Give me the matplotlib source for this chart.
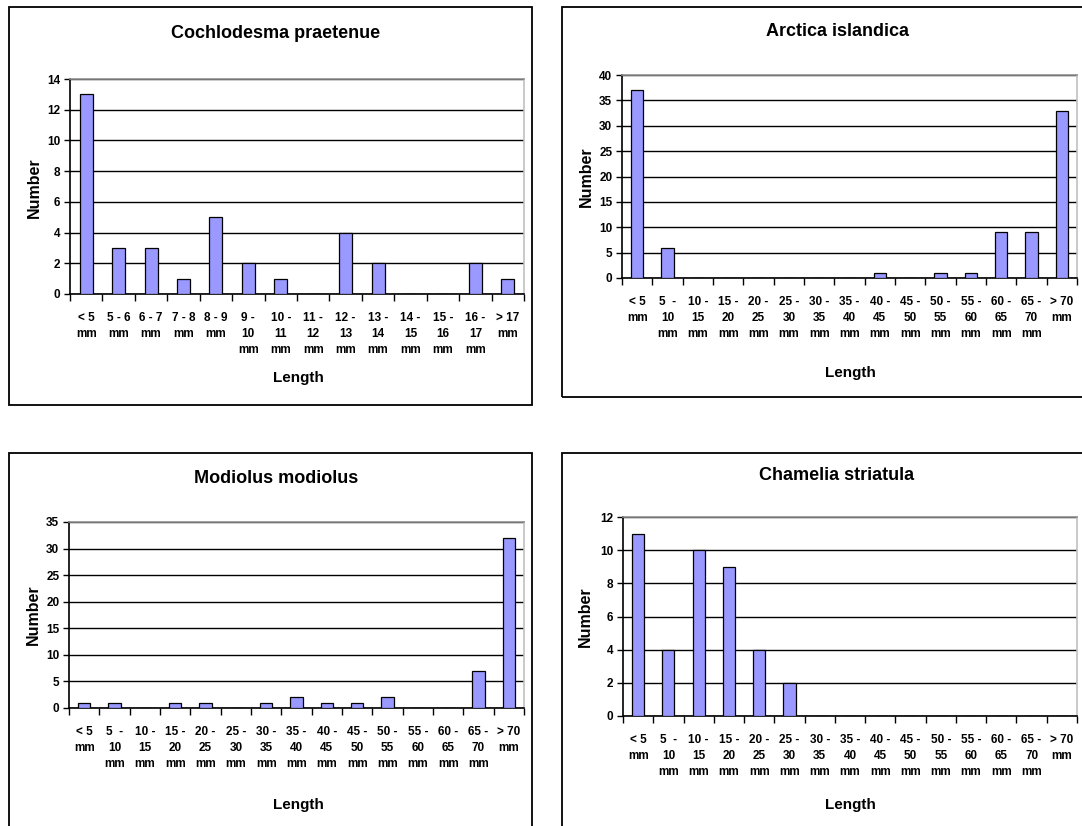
import matplotlib
matplotlib.use("Agg")
import matplotlib.pyplot as plt
from matplotlib.patches import Rectangle
import numpy as np

plt.rcParams["font.family"] = ["Liberation Sans", "DejaVu Sans"]
plt.rcParams["font.weight"] = "bold"

# -- data
small_labels = ["< 5\nmm", "5 - 6\nmm", "6 - 7\nmm", "7 - 8\nmm", "8 - 9\nmm",
                "9 -\n10\nmm", "10 -\n11\nmm", "11 -\n12\nmm", "12 -\n13\nmm",
                "13 -\n14\nmm", "14 -\n15\nmm", "15 -\n16\nmm", "16 -\n17\nmm",
                "> 17\nmm"]
large_labels = ["< 5\nmm", "5  -\n10\nmm", "10 -\n15\nmm", "15 -\n20\nmm",
                "20 -\n25\nmm", "25 -\n30\nmm", "30 -\n35\nmm", "35 -\n40\nmm",
                "40 -\n45\nmm", "45 -\n50\nmm", "50 -\n55\nmm", "55 -\n60\nmm",
                "60 -\n65\nmm", "65 -\n70\nmm", "> 70\nmm"]

cochlodesma = [13, 3, 3, 1, 5, 2, 1, 0, 4, 2, 0, 0, 2, 1]
arctica = [37, 6, 0, 0, 0, 0, 0, 0, 1, 0, 1, 1, 9, 9, 33]
modiolus = [1, 1, 0, 1, 1, 0, 1, 2, 1, 1, 2, 0, 0, 7, 32]
chamelia = [11, 4, 10, 9, 4, 2, 0, 0, 0, 0, 0, 0, 0, 0, 0]

W, H = 1082, 826
fig = plt.figure(figsize=(W / 100, H / 100), dpi=100)
fig.patch.set_facecolor("white")

def fx(x):
    return x / W

def fy(y):
    return 1 - y / H

def panel(box, plot, title, title_xy, labels, values, ymax, ystep, num_xy, len_xy):
    # outer chart border (pixels: left, top, right, bottom)
    bx0, by0, bx1, by1 = box
    fig.add_artist(Rectangle((fx(bx0), fy(by1)), fx(bx1 - bx0), (by1 - by0) / H,
                             transform=fig.transFigure, fill=False,
                             edgecolor="black", linewidth=1.3, clip_on=False))
    px0, py0, px1, py1 = plot
    ax = fig.add_axes([fx(px0), fy(py1), fx(px1 - px0), (py1 - py0) / H])
    n = len(values)
    x = np.arange(n)
    ax.bar(x, values, width=0.4, color="#9999FF", edgecolor="black",
           linewidth=0.9, zorder=3)
    ax.set_xlim(-0.5, n - 0.5)
    ax.set_ylim(0, ymax)
    ax.set_yticks(np.arange(0, ymax + 1, ystep))
    ax.yaxis.grid(True, color="black", linewidth=1.0, zorder=0)
    ax.set_axisbelow(True)
    ax.set_xticks(x)
    ax.set_xticklabels(labels, fontsize=8.5, fontweight="bold", linespacing=1.45,
                       va="top")
    ax.set_xticks(np.arange(-0.5, n, 1.0), minor=True)
    ax.tick_params(axis="x", which="major", length=0, pad=13)
    ax.tick_params(axis="x", which="minor", length=5, width=1.0, direction="out")
    ax.tick_params(axis="y", length=4, width=1.0, pad=3, labelsize=8.5)
    for lab in ax.get_yticklabels():
        lab.set_fontweight("bold")
    ax.spines["left"].set_color("black")
    ax.spines["bottom"].set_color("black")
    ax.spines["top"].set_color("#909090")
    ax.spines["right"].set_color("#c0c0c0")
    for s in ax.spines.values():
        s.set_linewidth(1.2)
    fig.text(fx(title_xy[0]), fy(title_xy[1]), title, ha="center", va="center",
             fontsize=13, fontweight="bold")
    fig.text(fx(num_xy[0]), fy(num_xy[1]), "Number", ha="center", va="center",
             rotation=90, fontsize=11.5, fontweight="bold")
    fig.text(fx(len_xy[0]), fy(len_xy[1]), "Length", ha="center", va="center",
             fontsize=11, fontweight="bold")
    return ax

panel((9, 7, 532, 405), (70, 79, 524, 294), "Cochlodesma praetenue", (276, 34),
      small_labels, cochlodesma, 14, 2, (34, 188), (298, 378))
panel((562, 7, 1090, 397), (622, 75, 1077, 278), "Arctica islandica", (837, 31),
      large_labels, arctica, 40, 5, (586, 177), (850, 373))
panel((9, 453, 532, 840), (69, 522, 524, 708), "Modiolus modiolus", (276, 479),
      large_labels, modiolus, 35, 5, (33, 615), (298, 805))
panel((562, 453, 1090, 840), (623, 517, 1077, 716), "Chamelia striatula", (837, 476),
      large_labels, chamelia, 12, 2, (585, 617), (850, 805))

fig.savefig("out.png", dpi=100, facecolor="white")
